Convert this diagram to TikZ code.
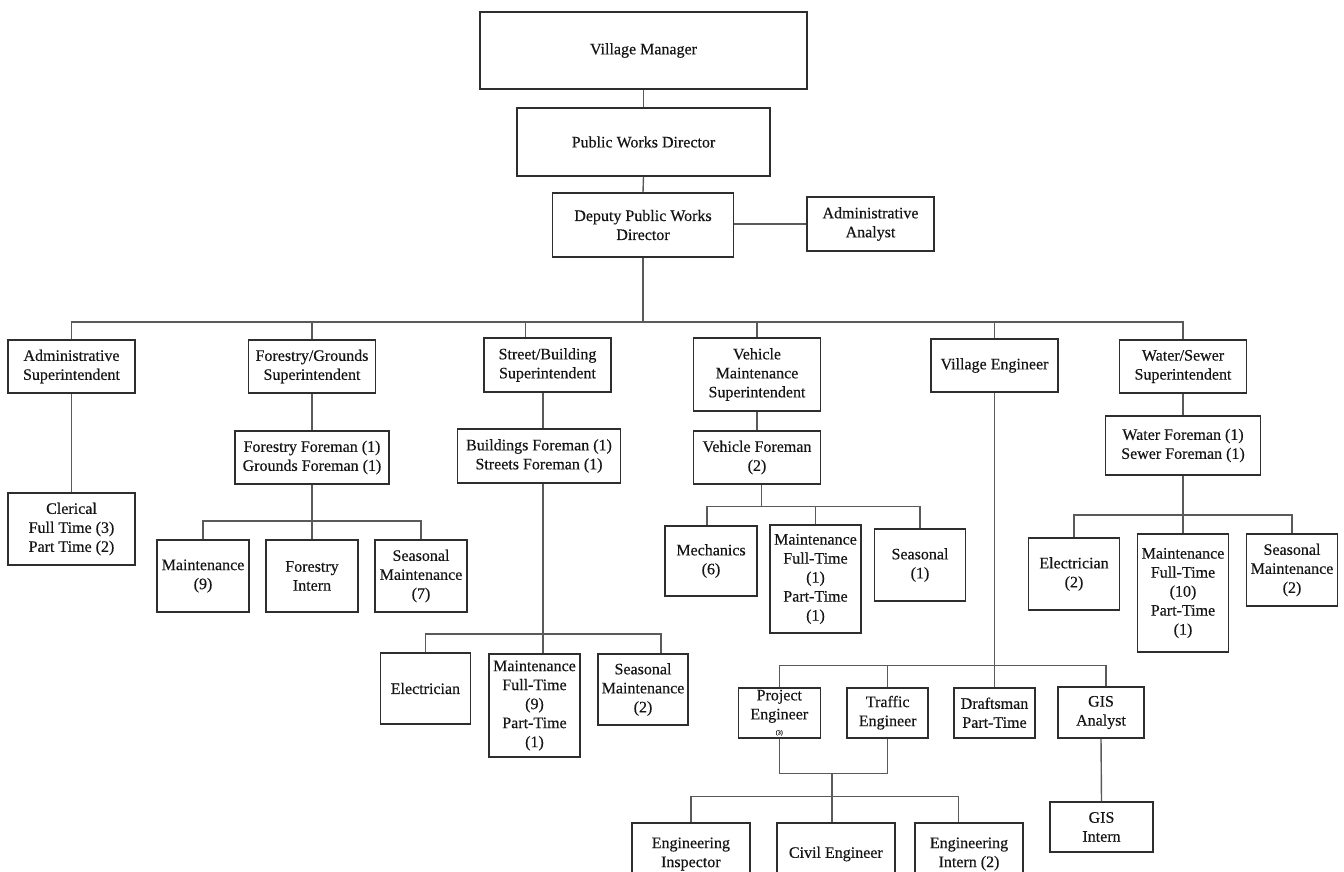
\documentclass[tikz,border=0pt]{standalone}
\usepackage{fontspec}
\setmainfont{Liberation Serif}
\newfontfamily\chartfont{Liberation Serif}[FakeBold=0.35]
\definecolor{boxc}{HTML}{2E2E2E}
\definecolor{linec}{HTML}{5A5A5A}
\definecolor{txt}{HTML}{151515}
\tikzset{
  box/.style={draw=boxc, line width=1.6pt, fill=white, align=center, inner sep=1pt,
    font=\chartfont\fontsize{16}{19}\selectfont, text=txt},
  conn/.style={draw=linec, line width=1.4pt},
  wh/.style n args={2}{minimum width=#1pt, minimum height=#2pt},
}
\begin{document}
\begin{tikzpicture}[x=1pt,y=-1pt]
\path[use as bounding box, fill=white] (0,0) rectangle (1344,872);
\clip (0,0) rectangle (1344,872);
% top
\node[box, wh={327}{77}] (vm) at (643.5,50.5) {Village Manager};
\node[box, wh={253}{68}] (pwd) at (643.5,142) {Public Works Director};
\node[box, wh={181}{64}] (dpwd) at (643,225) {Deputy Public Works\\Director};
\node[box, wh={127}{54}] (aa) at (870.5,224) {Administrative\\Analyst};
% superintendents
\node[box, wh={127}{53}] (adms) at (71.5,366.5) {Administrative\\Superintendent};
\node[box, wh={127}{53}] (fgs) at (312,366.5) {Forestry/Grounds\\Superintendent};
\node[box, wh={127}{54}] (sbs) at (547.5,365) {Street/Building\\Superintendent};
\node[box, wh={127}{73}] (vms) at (757,374.5) {Vehicle\\Maintenance\\Superintendent};
\node[box, wh={127}{53}] (ve) at (994.5,365.5) {Village Engineer};
\node[box, wh={127}{53}] (wss) at (1183,366.5) {Water/Sewer\\Superintendent};
% second level
\node[box, wh={127}{72}] (cler) at (71.5,529) {Clerical\\Full Time (3)\\Part Time (2)};
\node[box, wh={154}{53}] (ffm) at (312,457.5) {Forestry Foreman (1)\\Grounds Foreman (1)};
\node[box, wh={163}{54}] (bfm) at (539,456) {Buildings Foreman (1)\\Streets Foreman (1)};
\node[box, wh={127}{53}] (vfm) at (757,457.5) {Vehicle Foreman\\(2)};
\node[box, wh={155}{59}] (wfm) at (1183,445.5) {Water Foreman (1)\\Sewer Foreman (1)};
% forestry staff
\node[box, wh={92}{72}] (fmaint) at (203,576) {Maintenance\\(9)};
\node[box, wh={92}{72}] (fintern) at (312,576) {Forestry\\Intern};
\node[box, wh={92}{72}] (fseas) at (421,576) {Seasonal\\Maintenance\\(7)};
% vehicle staff
\node[box, wh={92}{70}] (mech) at (711,561) {Mechanics\\(6)};
\node[box, wh={91}{108}] (vmaint) at (815.5,579) {Maintenance\\Full-Time\\(1)\\Part-Time\\(1)};
\node[box, wh={91}{72}] (vseas) at (920,565) {Seasonal\\(1)};
% water staff
\node[box, wh={91}{72}] (welec) at (1074,574) {Electrician\\(2)};
\node[box, wh={91}{118}] (wmaint) at (1183,593) {Maintenance\\Full-Time\\(10)\\Part-Time\\(1)};
\node[box, wh={91}{72}] (wseas) at (1292,570) {Seasonal\\Maintenance\\(2)};
% street staff
\node[box, wh={90}{71}] (selec) at (425.4,688.5) {Electrician};
\node[box, wh={91}{103}] (smaint) at (534.5,705.5) {Maintenance\\Full-Time\\(9)\\Part-Time\\(1)};
\node[box, wh={90}{71}] (sseas) at (643,689.5) {Seasonal\\Maintenance\\(2)};
% engineering
\node[box, wh={82}{50}] (pe) at (779.3,712.7) {Project\\Engineer\\[-4pt]{\fontsize{6}{6}\selectfont (3)}};
\node[box, wh={81}{50}] (te) at (887.7,712.7) {Traffic\\Engineer};
\node[box, wh={81}{50}] (dm) at (994.5,712.7) {Draftsman\\Part-Time};
\node[box, wh={86}{51}] (gisa) at (1101,712.5) {GIS\\Analyst};
\node[box, wh={118}{62}] (einsp) at (690.85,854) {Engineering\\Inspector};
\node[box, wh={118}{62}] (ce) at (835.85,854) {Civil Engineer};
\node[box, wh={108}{62}] (eint) at (969,854) {Engineering\\Intern (2)};
\node[box, wh={103}{50}] (gisi) at (1101.5,827) {GIS\\Intern};
% connectors: top
\coordinate (bus) at (643,322);
\draw[conn] (vm.south) -- (pwd.north);
\draw[conn] (pwd.south) -- (dpwd.north);
\draw[conn] (aa.west -| dpwd.east) -- (aa.west);
\draw[conn] (dpwd.south) -- (bus);
\draw[conn] (adms.north) |- (bus) -| (wss.north);
\draw[conn] (fgs.north) -- (fgs.north |- bus);
\draw[conn] ([xshift=-22pt]sbs.north) -- ([xshift=-22pt]sbs.north |- bus);
\draw[conn] (vms.north) -- (vms.north |- bus);
\draw[conn] (ve.north) -- (ve.north |- bus);
% admin
\draw[conn] (adms.south) -- (cler.north);
% forestry
\coordinate (fbus) at (312,521);
\draw[conn] (fgs.south) -- (ffm.north);
\draw[conn] (ffm.south) -- (fintern.north);
\draw[conn] (fmaint.north) |- (fbus) -| (fseas.north);
% street
\coordinate (sbus) at (543,634);
\draw[conn] (sbs.south -| sbus) -- (bfm.north -| sbus);
\draw[conn] (bfm.south -| sbus) -- (smaint.north -| sbus);
\draw[conn] (selec.north) |- (sbus) -| ([xshift=18pt]sseas.north);
% vehicle
\coordinate (vbus) at (761.7,506.7);
\draw[conn] (vms.south) -- (vfm.north);
\draw[conn] ([xshift=4.7pt]vfm.south) -- (vbus);
\draw[conn] ([xshift=-4pt]mech.north) |- (vbus) -| (vseas.north);
\draw[conn] (vmaint.north) -- (vmaint.north |- vbus);
% engineering
\coordinate (ebus) at (994.5,665.3);
\draw[conn] (ve.south) -- (dm.north);
\draw[conn] (pe.north) |- (ebus) -| ([xshift=5pt]gisa.north);
\draw[conn] (te.north) -- (te.north |- ebus);
\coordinate (pjoin) at (832,773.3);
\coordinate (lbus) at (832,796.5);
\draw[conn] (pe.south) |- (pjoin) -| (te.south);
\draw[conn] (pjoin) -- (lbus);
\draw[conn] (einsp.north) |- (lbus) -| ([xshift=-10.7pt]eint.north);
\draw[conn] ([xshift=-4pt]ce.north) -- ([xshift=-4pt]ce.north |- lbus);
\draw[conn] (gisa.south) -- (gisi.north);
% water
\coordinate (wbus) at (1183,515);
\draw[conn] (wss.south) -- (wfm.north);
\draw[conn] (wfm.south) -- (wmaint.north);
\draw[conn] (welec.north) |- (wbus) -| (wseas.north);
\end{tikzpicture}
\end{document}
